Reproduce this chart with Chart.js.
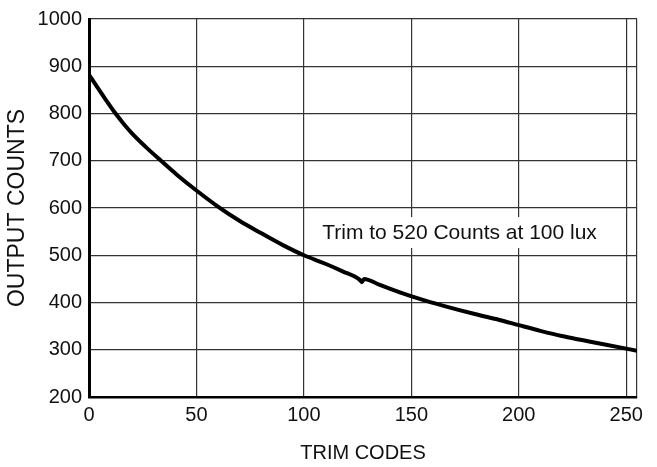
<!DOCTYPE html>
<html>
<head>
<meta charset="utf-8">
<script src="https://cdn.jsdelivr.net/npm/chart.js@4"></script>
<style>
  html, body { margin: 0; padding: 0; background: #fff; }
  #wrap { width: 657px; height: 467px; }
</style>
</head>
<body>
<div id="wrap"><canvas id="chart"></canvas></div>
<script>
// valores
var trimCodes = [0, 4, 8, 12, 16, 20, 26, 33, 41, 50, 60, 70, 80, 90, 100, 110, 118, 126, 127, 128, 135, 145, 155, 165, 180, 191, 200, 210, 220, 230, 240, 255];
var outputCounts = [882, 855, 828, 802, 779, 758, 731, 702, 670, 637, 603, 573, 547, 522, 500, 482, 466, 448, 443, 450, 438, 421, 406, 393, 375, 363, 352, 340, 329, 320, 311, 298];
var xTicks = [0, 50, 100, 150, 200, 250];
var xMax = 255;
var yTicks = [200, 300, 400, 500, 600, 700, 800, 900, 1000];
var note = { text: 'Trim to 520 Counts at 100 lux', x: 108.5, y: 547 };

var fonte = '"Liberation Sans", Arial, Helvetica, sans-serif';

var pontos = trimCodes.map(function (t, i) { return { x: t, y: outputCounts[i] }; });

// texto com fundo branco por cima da grade
var notaPlugin = {
    id: 'nota',
    afterDatasetsDraw: function (chart) {
        var c = chart.ctx;
        var px = chart.scales.x.getPixelForValue(note.x);
        var py = chart.scales.y.getPixelForValue(note.y);
        c.save();
        c.font = '21px ' + fonte;
        var w = c.measureText(note.text).width;
        c.fillStyle = '#fff';
        c.fillRect(px - 5, py - 16, w + 10, 31);
        c.fillStyle = '#111';
        c.textBaseline = 'middle';
        c.fillText(note.text, px, py);
        c.restore();
    }
};

var ctx = document.getElementById('chart').getContext('2d');
var myChart = new Chart(ctx, {
    type: 'line',
    data: {
        datasets: [{
            label: 'Output counts',
            data: pontos,
            borderColor: '#000',
            backgroundColor: '#000',
            borderWidth: 4,
            pointRadius: 0,
            cubicInterpolationMode: 'monotone'
        }]
    },
    options: {
        responsive: true,
        maintainAspectRatio: false,
        animation: false,
        layout: { padding: { top: 13, right: 20, bottom: 2, left: 0 } },
        scales: {
            x: {
                type: 'linear',
                min: 0,
                max: xMax,
                afterBuildTicks: function (s) {
                    s.ticks = xTicks.concat([xMax]).map(function (v) { return { value: v }; });
                },
                afterFit: function (s) { s.height = 68; },
                grid: { color: '#333', lineWidth: 1.2, drawTicks: false },
                border: { color: '#000', width: 2.5 },
                ticks: {
                    color: '#111',
                    padding: 6,
                    maxRotation: 0,
                    font: { family: fonte, size: 20 },
                    callback: function (v) { return xTicks.indexOf(v) >= 0 ? String(v) : ''; }
                },
                title: {
                    display: true,
                    text: 'TRIM CODES',
                    color: '#111',
                    font: { family: fonte, size: 20 },
                    padding: { top: 0, bottom: 0 }
                }
            },
            y: {
                min: 200,
                max: 1000,
                afterBuildTicks: function (s) {
                    s.ticks = yTicks.map(function (v) { return { value: v }; });
                },
                afterFit: function (s) { s.width = 89; },
                grid: { color: '#333', lineWidth: 1.2, drawTicks: false },
                border: { color: '#000', width: 3 },
                ticks: {
                    color: '#111',
                    padding: 7,
                    font: { family: fonte, size: 20 },
                    callback: function (v) { return String(v); }
                },
                title: {
                    display: true,
                    text: 'OUTPUT COUNTS',
                    color: '#111',
                    font: { family: fonte, size: 23 },
                    padding: { top: 4, bottom: 0 }
                }
            }
        },
        plugins: {
            legend: { display: false },
            tooltip: { enabled: false }
        }
    },
    plugins: [notaPlugin]
});
</script>
</body>
</html>
